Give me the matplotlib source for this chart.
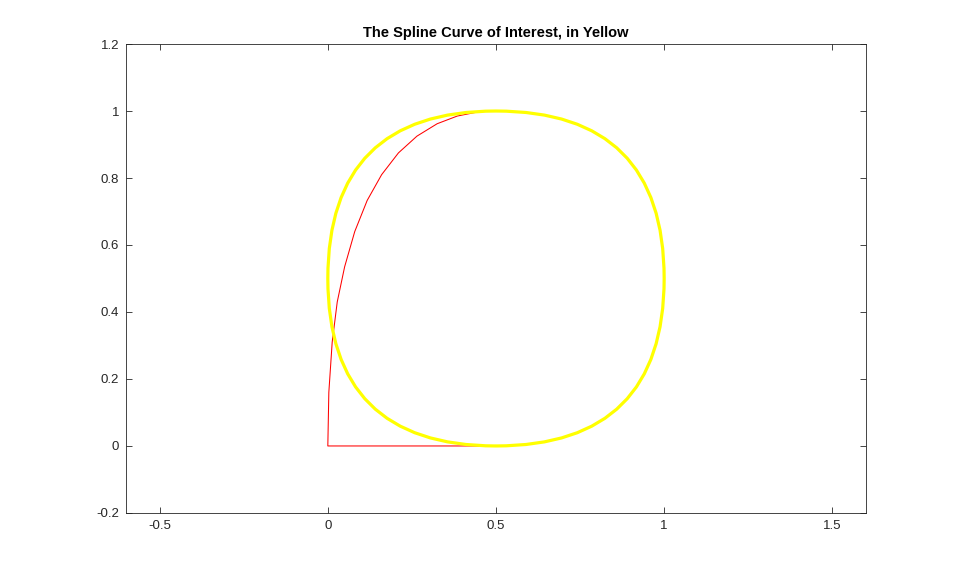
import matplotlib.pyplot as plt
from matplotlib.path import Path
from matplotlib.patches import PathPatch

plt.rcParams['font.family'] = ['Liberation Sans', 'DejaVu Sans']

# Quadratic spline pieces of the yellow curve: on-curve points and control points
knot_x = [0.5, 1.0, 0.5, 0.0, 0.5]
knot_y = [0.0, 0.5, 1.0, 0.5, 0.0]
ctrl_x = [1.0, 1.0, 0.0, 0.0]
ctrl_y = [0.0, 1.0, 1.0, 0.0]

# Red polyline
red_x = [0.5, 0.0, 0.003, 0.013, 0.028, 0.05, 0.08, 0.117, 0.16, 0.21,
         0.265, 0.325, 0.385, 0.45, 0.5]
red_y = [0.0, 0.0, 0.16, 0.31, 0.43, 0.535, 0.64, 0.733, 0.81, 0.875,
         0.925, 0.962, 0.985, 0.998, 1.0]

xticks = [-0.5, 0, 0.5, 1, 1.5]
yticks = [-0.2, 0, 0.2, 0.4, 0.6, 0.8, 1, 1.2]
xtick_labels = ['-0.5', '0', '0.5', '1', '1.5']
ytick_labels = ['-0.2', '0', '0.2', '0.4', '0.6', '0.8', '1', '1.2']

fig = plt.figure(figsize=(9.59, 5.77), dpi=100)
ax = fig.add_axes([0.1314, 0.111, 0.7716, 0.8127])

# build the spline path from the points
verts = [(knot_x[0], knot_y[0])]
codes = [Path.MOVETO]
for i in range(len(ctrl_x)):
    verts += [(ctrl_x[i], ctrl_y[i]), (knot_x[i + 1], knot_y[i + 1])]
    codes += [Path.CURVE3, Path.CURVE3]
ax.add_patch(PathPatch(Path(verts, codes), facecolor='none',
                       edgecolor='#ffff00', lw=2.3, zorder=3))

ax.plot(red_x, red_y, color='red', lw=0.75, zorder=2)

ax.set_xlim(-0.6, 1.6)
ax.set_ylim(-0.2, 1.2)
ax.set_xticks(xticks)
ax.set_xticklabels(xtick_labels)
ax.set_yticks(yticks)
ax.set_yticklabels(ytick_labels)
ax.tick_params(direction='in', length=4, width=0.6, top=True, right=True,
               labelsize=9.5, colors='#262626', pad=5)
for s in ax.spines.values():
    s.set_color('#262626')
    s.set_linewidth(0.6)

ax.set_title('The Spline Curve of Interest, in Yellow', fontsize=10.5,
             fontweight='bold', color='#000000', pad=5)

fig.savefig('out.png', dpi=100)
